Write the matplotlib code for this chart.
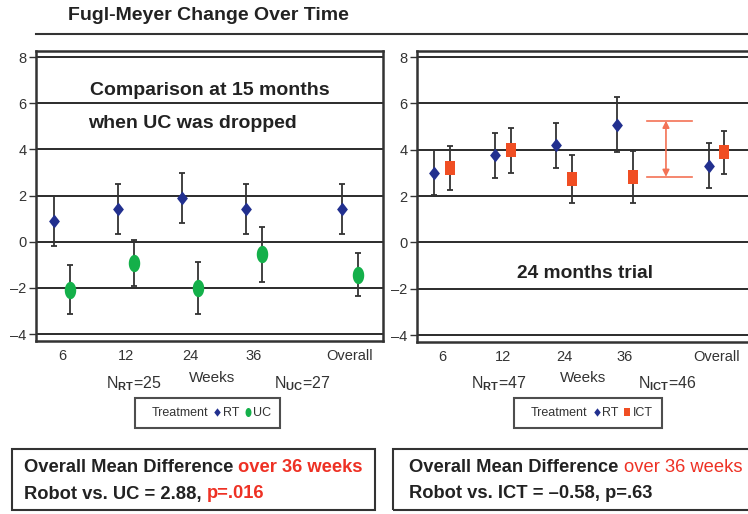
import matplotlib
matplotlib.use('Agg')
import matplotlib.pyplot as plt
from matplotlib.path import Path
from matplotlib.lines import Line2D
from matplotlib.patches import Rectangle
import numpy as np

plt.rcParams['font.family'] = ['Liberation Sans', 'DejaVu Sans']
plt.rcParams['mathtext.fontset'] = 'custom'
plt.rcParams['mathtext.rm'] = 'Liberation Sans'
plt.rcParams['mathtext.bf'] = 'Liberation Sans:bold'
plt.rcParams['mathtext.it'] = 'Liberation Sans:italic'

# ---------------- data ----------------
weeks = ['6', '12', '24', '36', 'Overall']
week_pos = [0, 1, 2, 3, 4.5]

# Left panel: RT vs UC (15 months)
rt1_mean = [0.91, 1.42, 1.91, 1.42, 1.42]
rt1_err = [1.08, 1.08, 1.08, 1.08, 1.07]
uc_mean = [-2.08, -0.92, -2.02, -0.55, -1.42]
uc_err = [1.06, 1.01, 1.13, 1.19, 0.94]

# Right panel: RT vs ICT (24 months)
rt2_mean = [3.00, 3.76, 4.19, 5.08, 3.31]
rt2_err = [0.97, 0.96, 0.97, 1.18, 0.97]
ict_mean = [3.22, 3.98, 2.73, 2.81, 3.88]
ict_err = [0.96, 0.97, 1.04, 1.12, 0.94]

diff_bounds = [2.83, 5.25]
yticks = [-4, -2, 0, 2, 4, 6, 8]

# ---------------- style ----------------
W, H = 748, 514
BLUE = '#22308f'
GREEN = '#14b04a'
ORANGE = '#f04e23'
ARROW = '#f37255'
RED = '#ee3124'

def mk_path(verts):
    verts = list(verts) + [verts[0]]
    codes = [Path.MOVETO] + [Path.LINETO] * (len(verts) - 2) + [Path.CLOSEPOLY]
    return Path(verts, codes)

diamond = mk_path([(0, 1), (0.78, 0), (0, -1), (-0.78, 0)])
th = np.linspace(0, 2 * np.pi, 48, endpoint=False)
ellipse = mk_path(list(zip(0.66 * np.cos(th), np.sin(th))))
rect = mk_path([(-0.78, -1), (0.78, -1), (0.78, 1), (-0.78, 1)])

fig = plt.figure(figsize=(W / 100, H / 100), dpi=100)

def px_axes(x0, y0, x1, y1):
    return fig.add_axes([x0 / W, 1 - y1 / H, (x1 - x0) / W, (y1 - y0) / H])

axL = px_axes(36, 51, 383, 341)
axR = px_axes(417, 51, 752, 342)

off = 0.125

def style(ax, xlim):
    ax.set_xlim(*xlim)
    ax.set_ylim(-4.3, 8.26)
    ax.set_yticks(yticks)
    ax.set_yticklabels([str(v).replace('-', '\u2013') for v in yticks])
    ax.set_xticks(week_pos)
    ax.set_xticklabels(weeks)
    ax.yaxis.grid(True, color='#1a1a1a', linewidth=1.3)
    ax.set_axisbelow(True)
    for s in ax.spines.values():
        s.set_color('#333333')
        s.set_linewidth(1.8)
    ax.tick_params(axis='y', length=5, width=1, color='#333333', labelsize=10.5,
                   labelcolor='#333333', pad=2)
    ax.tick_params(axis='x', length=0, labelsize=10.5, labelcolor='#333333', pad=6)

def series(ax, x, mean, err, marker, color, ms):
    ax.errorbar(x, mean, yerr=err, fmt='none', ecolor='#333333', elinewidth=1.3,
                capsize=2, capthick=1.3, zorder=3)
    ax.plot(x, mean, linestyle='none', marker=marker, color=color, markersize=ms,
            markeredgewidth=0, zorder=4)

xp = np.array(week_pos, dtype=float)

style(axL, (-0.406, 5.016))
series(axL, xp - off, rt1_mean, rt1_err, diamond, BLUE, 10)
series(axL, xp + off, uc_mean, uc_err, ellipse, GREEN, 12.5)
axL.text(0.44, 6.53, 'Comparison at 15 months', fontsize=14, fontweight='bold',
         color='#222222', ha='left', va='center')
axL.text(0.41, 5.1, 'when UC was dropped', fontsize=14, fontweight='bold',
         color='#222222', ha='left', va='center')

style(axR, (-0.41, 5.08))
series(axR, xp - off, rt2_mean, rt2_err, diamond, BLUE, 10)
series(axR, xp + off, ict_mean, ict_err, rect, ORANGE, 10)
axR.text(2.34, -1.34, '24 months trial', fontsize=13.8, fontweight='bold',
         color='#222222', ha='center', va='center')
for yv in diff_bounds:
    axR.plot([3.36, 4.1], [yv, yv], color=ARROW, lw=1.2, zorder=5)
axR.annotate('', xy=(3.67, diff_bounds[1]), xytext=(3.67, diff_bounds[0]),
             arrowprops=dict(arrowstyle='<|-|>', color=ARROW, lw=1.2,
                             mutation_scale=10, shrinkA=0, shrinkB=0), zorder=5)

# title and rule
fig.text(208 / W, 1 - 15 / H, 'Fugl-Meyer Change Over Time', ha='center', va='center',
         fontsize=14, fontweight='bold', color='#222222')
fig.add_artist(Line2D([36 / W, 1.0], [1 - 34 / H] * 2, color='#333333', lw=1.5))

# week labels and N
def ftext(x, y, s, **kw):
    return fig.text(x / W, 1 - y / H, s, **kw)

ftext(212, 378, 'Weeks', ha='center', va='center', fontsize=11, color='#333333')
ftext(134, 384, r'N$_{\mathbf{RT}}$=25', ha='center', va='center', fontsize=11.5, color='#333333')
ftext(302, 384, r'N$_{\mathbf{UC}}$=27', ha='center', va='center', fontsize=11.5, color='#333333')
ftext(583, 378, 'Weeks', ha='center', va='center', fontsize=11, color='#333333')
ftext(499, 384, r'N$_{\mathbf{RT}}$=47', ha='center', va='center', fontsize=11.5, color='#333333')
ftext(667, 384, r'N$_{\mathbf{ICT}}$=46', ha='center', va='center', fontsize=11.5, color='#333333')

# legends
def legend(cx, cy, other_marker, other_color, other_label, other_ms):
    hs = [Line2D([], [], linestyle='none'),
          Line2D([], [], linestyle='none', marker=diamond, color=BLUE, markersize=6, markeredgewidth=0),
          Line2D([], [], linestyle='none', marker=other_marker, color=other_color,
                 markersize=other_ms, markeredgewidth=0)]
    leg = fig.legend(hs, ['Treatment', 'RT', other_label], loc='center',
                     bbox_to_anchor=(cx / W, 1 - cy / H), ncol=3, frameon=True,
                     fancybox=False, edgecolor='#222222', fontsize=9,
                     handlelength=0.4, handletextpad=0.25, columnspacing=0.5,
                     borderpad=0.7, borderaxespad=0)
    leg.get_frame().set_linewidth(1.5)
    for t in leg.get_texts():
        t.set_color('#333333')

legend(207.5, 413, ellipse, GREEN, 'UC', 6.5)
legend(588, 413, rect, ORANGE, 'ICT', 6)

# bottom boxes
for x0, x1 in [(12, 375), (393, 760)]:
    fig.add_artist(Rectangle((x0 / W, 1 - 510 / H), (x1 - x0) / W, (510 - 449) / H,
                             transform=fig.transFigure, fill=False,
                             edgecolor='#333333', lw=1.5))

fig.canvas.draw()
renderer = fig.canvas.get_renderer()

def segs(x_px, y_px, parts, fs=13.2):
    x = x_px
    for s, color, weight in parts:
        t = ftext(x, y_px, s, color=color, fontweight=weight, fontsize=fs,
                  ha='left', va='center')
        bb = t.get_window_extent(renderer)
        x += bb.width

segs(24, 468, [('Overall Mean Difference ', '#222222', 'bold'),
               ('over 36 weeks', RED, 'bold')])
segs(24, 494, [('Robot vs. UC = 2.88, ', '#222222', 'bold'),
               ('p=.016', RED, 'bold')])
segs(409, 468, [('Overall Mean Difference ', '#222222', 'bold'),
                ('over 36 weeks', RED, 'normal')])
segs(409, 494, [('Robot vs. ICT = \u20130.58, p=.63', '#222222', 'bold')])

fig.savefig('out.png', dpi=100)
